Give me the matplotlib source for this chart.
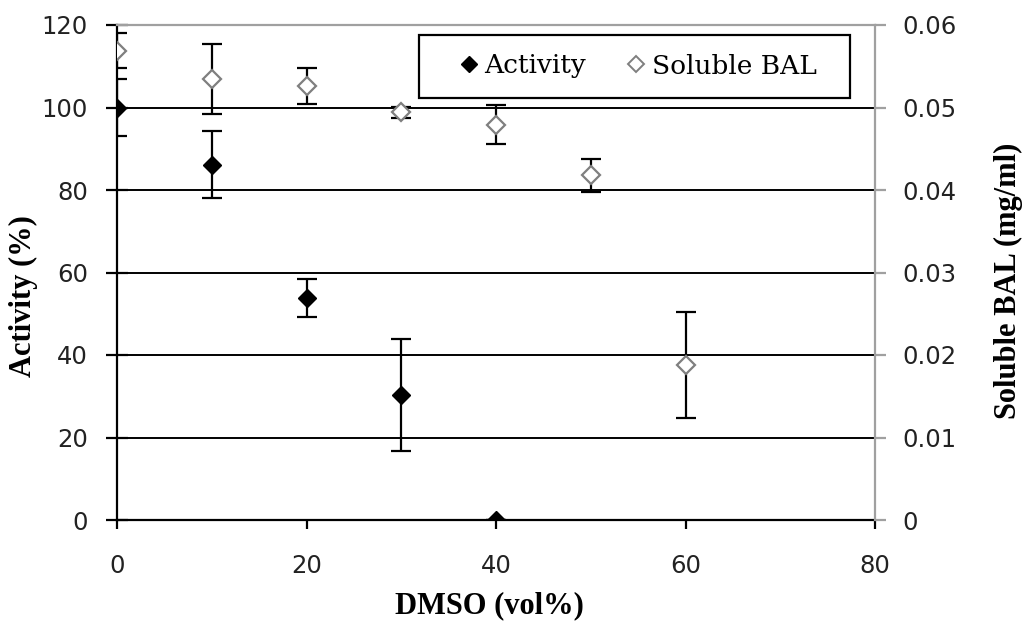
import matplotlib
matplotlib.use("Agg")
import matplotlib.pyplot as plt
from matplotlib.lines import Line2D
from matplotlib.patches import Rectangle

# 数据
act_x = [0, 10, 20, 30, 40]
act_y = [100, 86.1, 53.8, 30.3, 0]
act_err = [6.8, 8.1, 4.7, 13.5, 0]

bal_x = [0, 10, 20, 30, 40, 50, 60]
bal_y = [0.0569, 0.0535, 0.0526, 0.0494, 0.0479, 0.0418, 0.0188]
bal_err = [0.0021, 0.00425, 0.00215, 0.0007, 0.00235, 0.002, 0.0064]

x_ticks = [0, 20, 40, 60, 80]
left_ticks = [0, 20, 40, 60, 80, 100, 120]
right_ticks = [0, 0.01, 0.02, 0.03, 0.04, 0.05, 0.06]
right_labels = ["0", "0.01", "0.02", "0.03", "0.04", "0.05", "0.06"]

serif = "Liberation Serif"
tick_font = "DejaVu Sans"
gray = "#a0a0a0"
W, H = 1026, 622

fig = plt.figure(figsize=(W / 100, H / 100), dpi=100)
ax = fig.add_axes([117/W, 1-520/H, (875-117)/W, (520-25)/H])
ax2 = ax.twinx()

# 网格线
for v in left_ticks[1:-1]:
    ax.axhline(v, color="black", lw=1.4, zorder=1)

ax.errorbar(act_x, act_y, yerr=act_err, fmt="D", color="black", ms=9.5,
            ecolor="black", elinewidth=1.6, capsize=7, capthick=1.6, zorder=3)
ax2.errorbar(bal_x, bal_y, yerr=bal_err, fmt="D", mfc="white", mec="#7f7f7f",
             mew=1.6, ms=9.5, ecolor="black", elinewidth=1.6, capsize=7,
             capthick=1.6, zorder=3)

ax.set_xlim(0, 80)
ax.set_ylim(0, 120)
ax2.set_ylim(0, 0.06)
ax.set_xticks(x_ticks)
ax.set_yticks(left_ticks)
ax2.set_yticks(right_ticks)
ax2.set_yticklabels(right_labels)

for a in (ax, ax2):
    a.set_facecolor("none")
    for s in a.spines.values():
        s.set_visible(False)
ax.spines["left"].set_visible(True)
ax.spines["left"].set_linewidth(1.6)
ax.spines["bottom"].set_visible(True)
ax.spines["bottom"].set_linewidth(1.6)
ax2.spines["right"].set_visible(True)
ax2.spines["right"].set_color(gray)
ax2.spines["right"].set_linewidth(1.6)
ax2.spines["top"].set_visible(True)
ax2.spines["top"].set_color(gray)
ax2.spines["top"].set_linewidth(1.6)

ax.tick_params(axis="y", direction="inout", length=16, width=1.6, labelsize=17.5, pad=13)
ax.tick_params(axis="x", direction="out", length=6.5, width=1.6, labelsize=17.5, pad=18)
ax2.tick_params(axis="y", direction="out", length=8, width=1.6, color=gray,
                labelsize=17.5, pad=12)
for lab in ax.get_xticklabels() + ax.get_yticklabels() + ax2.get_yticklabels():
    lab.set_fontfamily(tick_font)
    lab.set_color("#222222")

lab_kw = dict(fontfamily=serif, fontweight="bold", fontsize=22)
ax.set_xlabel("DMSO (vol%)", **lab_kw)
ax.set_ylabel("Activity (%)", **lab_kw)
ax2.set_ylabel("Soluble BAL (mg/ml)", **lab_kw)
for lbl in (ax.xaxis.label, ax.yaxis.label, ax2.yaxis.label):
    lbl.set_va("center")
    lbl.set_ha("center")
ax.xaxis.set_label_coords(0.4908, -0.1737)
ax.yaxis.set_label_coords(-0.124, 0.4525)
ax2.yaxis.set_label_coords(1.1755, 0.483)

# 图例: 外框单独画
frame = Rectangle((419/W, 1-98/H), (850-419)/W, 63/H, transform=fig.transFigure,
                  facecolor="white", edgecolor="black", lw=1.6, zorder=5)
fig.patches.append(frame)
handles = [
    Line2D([], [], ls="none", marker="D", color="black", ms=8.5),
    Line2D([], [], ls="none", marker="D", mfc="white", mec="#7f7f7f", mew=1.4, ms=8.5),
]
leg = fig.legend(handles, ["Activity", "Soluble BAL"], loc="center left",
                 bbox_to_anchor=(458/W, 1-66/H), ncol=2, frameon=False,
                 prop={"family": "DejaVu Serif", "size": 19}, handletextpad=0.2,
                 columnspacing=1.5, borderpad=0, handlelength=0.8,
                 borderaxespad=0)
leg.set_zorder(6)

fig.savefig("out.png", dpi=100)
